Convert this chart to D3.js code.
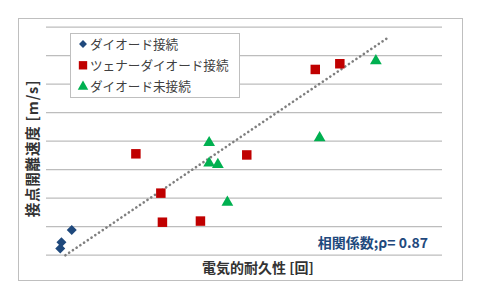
<!DOCTYPE html>
<html>
<head>
<meta charset="utf-8">
<script src="https://cdn.jsdelivr.net/npm/d3@7"></script>
<style>
  body { margin: 0; background: #fff; }
  text { font-family: "Noto Sans CJK JP", "Noto Sans", sans-serif; }
</style>
</head>
<body>
<div id="chart"></div>
<script>
// data (x: arbitrary 0-100, y: gridline units 0-8)
var seriesNames = ["ダイオード接続", "ツェナーダイオード接続", "ダイオード未接続"];
var diodeX = [3.6, 3.9, 6.5];
var diodeY = [0.22, 0.44, 0.87];
var zenerX = [22.7, 29.0, 29.4, 39.0, 50.7, 68.0, 74.2];
var zenerY = [3.54, 2.16, 1.14, 1.18, 3.5, 6.5, 6.7];
var noneX = [41.2, 41.2, 43.4, 45.8, 69.1, 83.3];
var noneY = [3.93, 3.21, 3.16, 1.84, 4.1, 6.8];
var trendX = [4.9, 86.2];
var trendY = [-0.02, 7.6];
var yTicks = [0, 1, 2, 3, 4, 5, 6, 7, 8];

var width = 480, height = 300;
var svg = d3.select("#chart").append("svg")
  .attr("width", width)
  .attr("height", height);

// outer frame
svg.append("rect")
  .attr("x", 18.5).attr("y", 18.5)
  .attr("width", 444).attr("height", 262)
  .attr("fill", "#fff")
  .attr("stroke", "#bfbfbf")
  .attr("stroke-width", 1);

var x = d3.scaleLinear().domain([0, 100]).range([46, 442]);
var y = d3.scaleLinear().domain([0, 8]).range([254.7, 26.7]);

// gridlines via axis
var grid = svg.append("g")
  .attr("transform", "translate(46,0)")
  .call(d3.axisLeft(y).tickValues(yTicks).tickSize(-396).tickFormat(""));
grid.select(".domain").remove();
grid.selectAll("line").attr("stroke", "#bdbdbd").attr("stroke-width", 1.2);

// trend line
svg.append("line")
  .attr("x1", x(trendX[0])).attr("y1", y(trendY[0]))
  .attr("x2", x(trendX[1])).attr("y2", y(trendY[1]))
  .attr("stroke", "#7f7f7f")
  .attr("stroke-width", 2.6)
  .attr("stroke-dasharray", "0.1 4.4")
  .attr("stroke-linecap", "round");

function zip(xs, ys) {
  return xs.map(function (v, i) { return {x: v, y: ys[i]}; });
}

var diamond = d3.symbol().type(d3.symbolDiamond2).size(64);
var square = d3.symbol().type(d3.symbolSquare).size(90);
var triangle = d3.symbol().type(d3.symbolTriangle).size(60);

var series = [
  {data: zip(diodeX, diodeY), sym: diamond, color: "#1f497d"},
  {data: zip(zenerX, zenerY), sym: square, color: "#c00000"},
  {data: zip(noneX, noneY), sym: triangle, color: "#00b050"}
];

series.forEach(function (s) {
  svg.append("g").selectAll("path")
    .data(s.data)
    .enter().append("path")
    .attr("d", s.sym)
    .attr("transform", function (d) { return "translate(" + x(d.x) + "," + y(d.y) + ")"; })
    .attr("fill", s.color);
});

// legend
var legend = svg.append("g");
legend.append("rect")
  .attr("x", 70.5).attr("y", 33.5)
  .attr("width", 169).attr("height", 64)
  .attr("fill", "#fff")
  .attr("stroke", "#bfbfbf");

var legendSyms = [
  d3.symbol().type(d3.symbolDiamond2).size(40),
  d3.symbol().type(d3.symbolSquare).size(70),
  d3.symbol().type(d3.symbolTriangle).size(48)
];
seriesNames.forEach(function (name, i) {
  var ly = 44 + i * 21.3;
  legend.append("path")
    .attr("d", legendSyms[i])
    .attr("transform", "translate(83," + ly + ")")
    .attr("fill", series[i].color);
  legend.append("text")
    .attr("x", 90)
    .attr("y", ly)
    .attr("dy", "0.36em")
    .attr("font-size", 12.6)
    .attr("fill", "#404040")
    .text(name);
});

// axis titles
svg.append("text")
  .attr("x", 258).attr("y", 268)
  .attr("dy", "0.36em")
  .attr("text-anchor", "middle")
  .attr("font-size", 14)
  .attr("font-weight", "bold")
  .attr("fill", "#333")
  .text("電気的耐久性 [回]");

svg.append("text")
  .attr("transform", "translate(33,148.5) rotate(-90)")
  .attr("dy", "0.36em")
  .attr("text-anchor", "middle")
  .attr("font-size", 14.5)
  .attr("font-weight", "bold")
  .attr("letter-spacing", 0.8)
  .attr("fill", "#333")
  .text("接点開離速度 [m/s]");

// correlation note
svg.append("text")
  .attr("x", 428).attr("y", 242.7)
  .attr("dy", "0.36em")
  .attr("text-anchor", "end")
  .attr("font-size", 14)
  .attr("font-weight", 600)
  .attr("fill", "#1f497d")
  .text("相関係数;ρ= 0.87");
</script>
</body>
</html>
